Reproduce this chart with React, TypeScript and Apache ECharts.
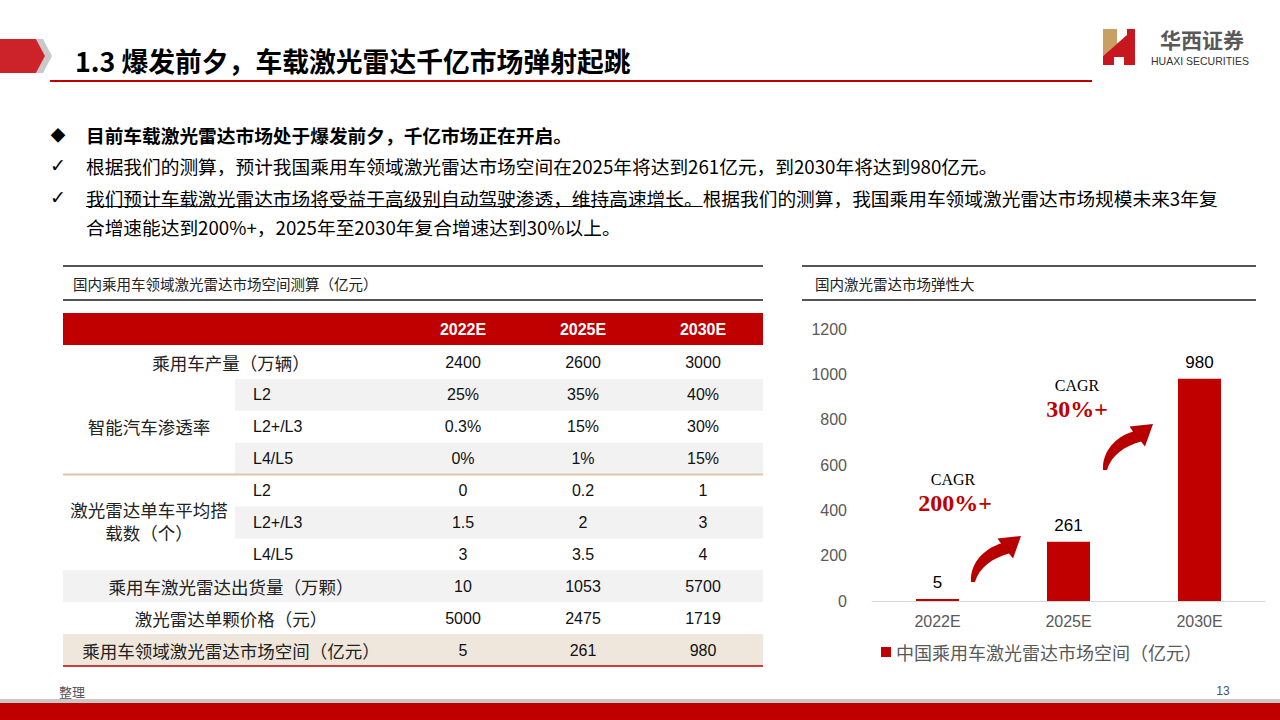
import React, { useEffect, useRef } from 'react';
import * as echarts from 'echarts';

// ---------- data ----------
const years = ['2022E', '2025E', '2030E'];
const carOutput = ['2400', '2600', '3000'];
const levels = ['L2', 'L2+/L3', 'L4/L5'];
const penL2 = ['25%', '35%', '40%'];
const penL23 = ['0.3%', '15%', '30%'];
const penL45 = ['0%', '1%', '15%'];
const lidarL2 = ['0', '0.2', '1'];
const lidarL23 = ['1.5', '2', '3'];
const lidarL45 = ['3', '3.5', '4'];
const shipments = ['10', '1053', '5700'];
const unitPrice = ['5000', '2475', '1719'];
const marketSize = [5, 261, 980];
const cagrLabels = ['200%+', '30%+'];
const legendName = '中国乘用车激光雷达市场空间（亿元）';

const pageTitle = '1.3 爆发前夕，车载激光雷达千亿市场弹射起跳';
const bullet1 = '目前车载激光雷达市场处于爆发前夕，千亿市场正在开启。';
const bullet2 = '根据我们的测算，预计我国乘用车领域激光雷达市场空间在2025年将达到261亿元，到2030年将达到980亿元。';
const bullet3a = '我们预计车载激光雷达市场将受益于高级别自动驾驶渗透，维持高速增长。';
const bullet3b = '根据我们的测算，我国乘用车领域激光雷达市场规模未来3年复';
const bullet3c = '合增速能达到200%+，2025年至2030年复合增速达到30%以上。';
const tableTitle = '国内乘用车领域激光雷达市场空间测算（亿元）';
const chartTitle = '国内激光雷达市场弹性大';

// ---------- shapes ----------
const ARROW_D =
  'M0 46 C-1 28 12 13 30 7.5 L26.5 2.5 L50 0 L42 22.5 L38 17.5 C21 22 8 32 4 46 Z';
echarts.graphic.registerShape('cagrArrow', echarts.graphic.extendPath(ARROW_D, {}));

const CJK = '"Noto Sans CJK SC","Noto Sans",sans-serif';
const ARIAL = '"Liberation Sans",Arial,sans-serif';
const TIMES = '"Liberation Serif","Times New Roman",serif';
const RED = '#C00000';

function txt(x: number, y: number, text: string, o: any = {}) {
  const align = o.align || 'left';
  return {
    type: 'text',
    x,
    y,
    silent: true,
    style: {
      text,
      fill: o.color || '#000',
      fontSize: o.size || 16,
      fontFamily: o.family || CJK,
      fontWeight: o.weight || 'normal',
      align,
      textAlign: align,
      verticalAlign: 'middle',
      textVerticalAlign: 'middle',
      lineHeight: o.lineHeight,
    },
  };
}
function rect(x: number, y: number, w: number, h: number, fill: string) {
  return { type: 'rect', silent: true, shape: { x, y, width: w, height: h }, style: { fill } };
}
function line(x1: number, y1: number, x2: number, y2: number, stroke: string, lw: number) {
  return { type: 'line', silent: true, shape: { x1, y1, x2, y2 }, style: { stroke, lineWidth: lw } };
}
function poly(points: number[][], fill: string) {
  return { type: 'polygon', silent: true, shape: { points }, style: { fill } };
}
function measure(text: string, font: string) {
  const c = document.createElement('canvas').getContext('2d');
  if (!c) return text.length * 18;
  c.font = font;
  return c.measureText(text).width;
}

export default function App() {
  const ref = useRef<HTMLDivElement>(null);
  useEffect(() => {
    const el = ref.current;
    if (!el) return;
    const chart = echarts.init(el, null, { renderer: 'svg' });

    const g: any[] = [];
    // header
    g.push(poly([[36, 39], [43, 39], [52, 56], [43, 73], [36, 73], [45, 56]], '#C8C8C8'));
    g.push(poly([[0, 39], [36, 39], [45, 56], [36, 73], [0, 73]], '#CC2229'));
    g.push(txt(75, 60, pageTitle, { size: 26.8, weight: 'bold' }));
    g.push(line(50, 81, 1092, 81, RED, 2));
    // logo
    g.push(poly([[1103, 29], [1117, 29], [1117, 44], [1103, 56]], '#C9A063'));
    g.push(
      poly(
        [[1103, 56], [1127, 35], [1127, 29], [1135, 29], [1135, 65], [1124, 65], [1124, 57], [1114, 57], [1114, 65], [1103, 65]],
        '#C8161E'
      )
    );
    g.push(txt(1202, 39, '华西证券', { size: 21, weight: 'bold', color: '#595959', align: 'center' }));
    g.push(txt(1200, 61, 'HUAXI SECURITIES', { size: 10.5, family: ARIAL, color: '#333', align: 'center' }));

    // bullets
    const bFont = 18.7;
    g.push(txt(58, 134, '◆', { size: 15, align: 'center' }));
    g.push(txt(86, 134, bullet1, { size: bFont, weight: 'bold' }));
    g.push(txt(58, 165, '✓', { size: 19, align: 'center', family: '"DejaVu Sans",sans-serif' }));
    g.push(txt(86, 165, bullet2, { size: bFont }));
    g.push(txt(58, 197, '✓', { size: 19, align: 'center', family: '"DejaVu Sans",sans-serif' }));
    const w3a = measure(bullet3a, `${bFont}px "Noto Sans CJK SC"`);
    g.push(txt(86, 197, bullet3a, { size: bFont }));
    g.push(line(86, 206.5, 86 + w3a, 206.5, '#000', 1));
    g.push(txt(86 + w3a, 197, bullet3b, { size: bFont }));
    g.push(txt(86, 226, bullet3c, { size: bFont }));

    // table title panel
    g.push(line(63, 266, 763, 266, '#555', 2));
    g.push(line(63, 300, 763, 300, '#555', 2));
    g.push(txt(73, 283, tableTitle, { size: 14.5, color: '#222' }));
    // right chart title panel
    g.push(line(802, 266, 1256, 266, '#555', 2));
    g.push(line(802, 300, 1256, 300, '#555', 2));
    g.push(txt(815, 283, chartTitle, { size: 14.5, color: '#222' }));

    // table
    const colX = [463, 583, 703];
    const rowTop = 347;
    const rowH = 31.9;
    g.push(rect(63, 313, 700, 32, RED));
    years.forEach((y, i) => g.push(txt(colX[i], 329, y, { size: 16, weight: 'bold', family: ARIAL, color: '#fff', align: 'center' })));

    const rows: any[] = [
      { label: '乘用车产量（万辆）', values: carOutput },
      { sub: levels[0], values: penL2, bg: '#F2F2F2' },
      { sub: levels[1], values: penL23 },
      { sub: levels[2], values: penL45, bg: '#F2F2F2' },
      { sub: levels[0], values: lidarL2 },
      { sub: levels[1], values: lidarL23, bg: '#F2F2F2' },
      { sub: levels[2], values: lidarL45 },
      { label: '乘用车激光雷达出货量（万颗）', values: shipments, bg: '#F2F2F2' },
      { label: '激光雷达单颗价格（元）', values: unitPrice },
      { label: '乘用车领域激光雷达市场空间（亿元）', values: marketSize.map(String), bg: '#EFE7DC' },
    ];
    rows.forEach((r, i) => {
      const top = rowTop + i * rowH;
      const cy = top + rowH / 2;
      if (r.bg) {
        if (r.label) g.push(rect(63, top, 700, rowH, r.bg));
        else g.push(rect(235, top, 528, rowH, r.bg));
      }
      if (r.label) g.push(txt(231, cy, r.label, { size: 17.5, color: '#222', align: 'center' }));
      if (r.sub) g.push(txt(253, cy, r.sub, { size: 16, family: ARIAL, color: '#111' }));
      r.values.forEach((v: string, j: number) =>
        g.push(txt(colX[j], cy, v, { size: 16, family: ARIAL, color: '#111', align: 'center' }))
      );
    });
    g.push(txt(149, rowTop + 2.5 * rowH, '智能汽车渗透率', { size: 17.5, color: '#222', align: 'center' }));
    g.push(
      txt(149, rowTop + 5.5 * rowH - 1, '激光雷达单车平均搭\n载数（个）', { size: 17.5, color: '#222', align: 'center', lineHeight: 23 })
    );
    g.push(line(63, rowTop + 4 * rowH, 763, rowTop + 4 * rowH, '#D8C8A8', 2));
    g.push(line(63, rowTop + 10 * rowH, 763, rowTop + 10 * rowH, RED, 1.5));

    // CAGR annotations
    g.push({ type: 'cagrArrow', x: 971, y: 536, silent: true, style: { fill: '#B80000' } });
    g.push({ type: 'cagrArrow', x: 1103, y: 424, silent: true, style: { fill: '#B80000' } });
    g.push(txt(953, 479, 'CAGR', { size: 16, family: TIMES, align: 'center' }));
    g.push(txt(955, 503, cagrLabels[0], { size: 24, family: TIMES, weight: 'bold', color: RED, align: 'center' }));
    g.push(txt(1077, 385, 'CAGR', { size: 16, family: TIMES, align: 'center' }));
    g.push(txt(1077, 409, cagrLabels[1], { size: 24, family: TIMES, weight: 'bold', color: RED, align: 'center' }));

    // footer
    g.push(txt(72, 691, '整理', { size: 13, color: '#555', align: 'center' }));
    g.push(txt(1223, 691, '13', { size: 12, family: ARIAL, color: '#44546A', align: 'center' }));
    g.push(rect(0, 699, 1280, 4, '#C8C8C8'));
    g.push(rect(0, 703, 1280, 17, RED));

    const option: any = {
      animation: false,
      backgroundColor: '#fff',
      textStyle: { fontFamily: ARIAL },
      grid: { left: 872, right: 15, top: 329, bottom: 119, containLabel: false },
      legend: {
        data: [legendName],
        left: 876,
        top: 638,
        icon: 'rect',
        itemWidth: 10,
        itemHeight: 10,
        textStyle: { color: '#595959', fontSize: 18, fontFamily: CJK },
      },
      xAxis: {
        type: 'category',
        data: years,
        axisLine: { lineStyle: { color: '#D9D9D9', width: 1 } },
        axisTick: { show: false },
        axisLabel: { color: '#595959', fontSize: 16, margin: 12, fontFamily: ARIAL },
      },
      yAxis: {
        type: 'value',
        min: 0,
        max: 1200,
        interval: 200,
        axisLine: { show: false },
        axisTick: { show: false },
        splitLine: { show: false },
        axisLabel: {
          color: '#595959',
          fontSize: 16,
          margin: 25,
          fontFamily: ARIAL,
          formatter: (v: number) => String(v),
        },
      },
      series: [
        {
          type: 'bar',
          name: legendName,
          data: marketSize,
          barWidth: 43,
          barMinHeight: 2,
          itemStyle: { color: RED },
          label: { show: true, position: 'top', distance: 8, color: '#000', fontSize: 17, fontFamily: ARIAL },
        },
      ],
      graphic: { elements: g },
    };
    chart.setOption(option);
    return () => chart.dispose();
  }, []);
  return (
    <div
      ref={ref}
      style={{ position: 'fixed', left: 0, top: 0, width: 1280, height: 720, background: '#fff' }}
    />
  );
}
